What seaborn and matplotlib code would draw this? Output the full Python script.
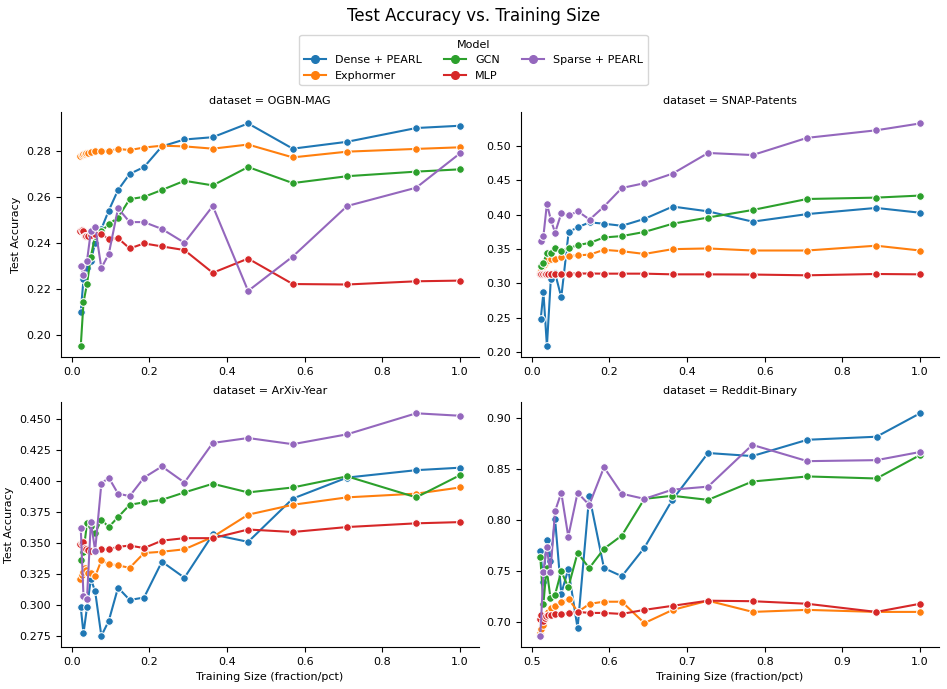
import pandas as pd
import matplotlib
matplotlib.use("Agg")
import matplotlib.pyplot as plt
import seaborn as sns

plt.rcParams.update({"font.size": 8, "axes.titlesize": 8, "axes.labelsize": 8,
                     "xtick.labelsize": 8, "ytick.labelsize": 8,
                     "legend.fontsize": 8, "legend.title_fontsize": 8})

# Training fractions
frac = [0.023, 0.030, 0.039, 0.049, 0.060, 0.076, 0.095, 0.119, 0.149, 0.186,
        0.232, 0.290, 0.363, 0.454, 0.569, 0.709, 0.887, 1.0]
frac_fine = [0.021, 0.025, 0.029, 0.033, 0.037, 0.042, 0.049, 0.060, 0.076, 0.095,
             0.119, 0.149, 0.186, 0.232, 0.290, 0.363, 0.454, 0.569, 0.709, 0.887, 1.0]
reddit_frac = [0.511, 0.515, 0.519, 0.524, 0.530, 0.538, 0.547, 0.559, 0.574, 0.593,
               0.616, 0.645, 0.681, 0.727, 0.784, 0.855, 0.944, 1.0]
reddit_frac_fine = [0.5105, 0.5125, 0.5145, 0.5165, 0.5185, 0.521, 0.5245, 0.530, 0.538, 0.5475,
                    0.5595, 0.5745, 0.593, 0.616, 0.645, 0.6815, 0.727, 0.7845, 0.8545, 0.9435, 1.0]

datasets = ["OGBN-MAG", "SNAP-Patents", "ArXiv-Year", "Reddit-Binary"]
models = ["Dense + PEARL", "Exphormer", "GCN", "MLP", "Sparse + PEARL"]

# OGBN-MAG
ogbn_dense = [0.210, 0.224, 0.229, 0.232, 0.240, 0.246, 0.254, 0.263, 0.270, 0.273,
              0.282, 0.285, 0.286, 0.292, 0.281, 0.284, 0.290, 0.291]
ogbn_exph = [0.2778, 0.2782, 0.2785, 0.2788, 0.2790, 0.2792, 0.2794, 0.2799, 0.2801, 0.2800,
             0.2809, 0.2804, 0.2815, 0.2823, 0.2820, 0.2810, 0.2828, 0.2772, 0.2797, 0.2809, 0.2816]
ogbn_gcn = [0.195, 0.214, 0.222, 0.234, 0.243, 0.245, 0.248, 0.251, 0.259, 0.260,
            0.263, 0.267, 0.265, 0.273, 0.266, 0.269, 0.271, 0.272]
ogbn_mlp = [0.2450, 0.2455, 0.2450, 0.2430, 0.2430, 0.2430, 0.2435, 0.2440, 0.2440, 0.2415,
            0.2420, 0.2375, 0.2397, 0.2384, 0.2368, 0.2269, 0.2331, 0.2220, 0.2218, 0.2232, 0.2235]
ogbn_sparse = [0.230, 0.226, 0.232, 0.245, 0.247, 0.229, 0.235, 0.255, 0.249, 0.249,
               0.246, 0.240, 0.256, 0.219, 0.234, 0.256, 0.264, 0.279]

# SNAP-Patents
snap_dense = [0.248, 0.287, 0.209, 0.306, 0.315, 0.280, 0.375, 0.382, 0.389, 0.387,
              0.384, 0.394, 0.412, 0.405, 0.390, 0.401, 0.410, 0.403]
snap_exph = [0.316, 0.320, 0.325, 0.329, 0.332, 0.334, 0.335, 0.336, 0.338, 0.340,
             0.341, 0.342, 0.349, 0.347, 0.343, 0.350, 0.351, 0.348, 0.348, 0.355, 0.348]
snap_gcn = [0.326, 0.330, 0.345, 0.345, 0.352, 0.348, 0.351, 0.356, 0.359, 0.367,
            0.369, 0.375, 0.387, 0.396, 0.407, 0.423, 0.425, 0.428]
snap_mlp = [0.3145, 0.3145, 0.3145, 0.3145, 0.3145, 0.3145, 0.3145, 0.3145, 0.3145, 0.3145,
            0.3145, 0.3145, 0.3143, 0.3143, 0.3143, 0.3133, 0.3133, 0.3130, 0.3119, 0.3138, 0.3133]
snap_sparse = [0.362, 0.369, 0.416, 0.393, 0.374, 0.402, 0.399, 0.405, 0.393, 0.412,
               0.439, 0.446, 0.460, 0.490, 0.487, 0.512, 0.523, 0.533]

# ArXiv-Year
arxiv_dense = [0.298, 0.277, 0.298, 0.321, 0.311, 0.275, 0.287, 0.314, 0.304, 0.306,
               0.335, 0.322, 0.357, 0.351, 0.386, 0.403, 0.409, 0.411]
arxiv_exph = [0.321, 0.324, 0.327, 0.330, 0.328, 0.326, 0.326, 0.323, 0.336, 0.333,
              0.332, 0.330, 0.342, 0.343, 0.345, 0.355, 0.373, 0.381, 0.387, 0.390, 0.395]
arxiv_gcn = [0.336, 0.343, 0.366, 0.364, 0.358, 0.369, 0.363, 0.371, 0.381, 0.383,
             0.385, 0.391, 0.398, 0.391, 0.395, 0.404, 0.387, 0.405]
arxiv_mlp = [0.349, 0.350, 0.351, 0.346, 0.345, 0.3445, 0.344, 0.344, 0.345, 0.345,
             0.347, 0.348, 0.346, 0.352, 0.354, 0.354, 0.361, 0.359, 0.363, 0.366, 0.367]
arxiv_sparse = [0.362, 0.307, 0.305, 0.367, 0.344, 0.398, 0.403, 0.390, 0.388, 0.403,
                0.412, 0.399, 0.431, 0.435, 0.430, 0.438, 0.455, 0.453]

# Reddit-Binary
reddit_dense = [0.770, 0.739, 0.781, 0.760, 0.801, 0.728, 0.752, 0.694, 0.824, 0.753,
                0.745, 0.773, 0.820, 0.866, 0.863, 0.879, 0.882, 0.905]
reddit_exph = [0.689, 0.693, 0.697, 0.704, 0.708, 0.710, 0.714, 0.716, 0.720, 0.7225,
               0.710, 0.718, 0.720, 0.720, 0.699, 0.712, 0.721, 0.710, 0.712, 0.710, 0.710]
reddit_gcn = [0.764, 0.718, 0.753, 0.724, 0.727, 0.750, 0.734, 0.768, 0.753, 0.772,
              0.785, 0.821, 0.824, 0.820, 0.838, 0.843, 0.841, 0.864]
reddit_mlp = [0.703, 0.7065, 0.7015, 0.704, 0.706, 0.707, 0.707, 0.7075, 0.708, 0.709,
              0.710, 0.709, 0.709, 0.708, 0.712, 0.716, 0.721, 0.7205, 0.718, 0.710, 0.718]
reddit_sparse = [0.6865, 0.749, 0.774, 0.749, 0.809, 0.827, 0.784, 0.827, 0.815, 0.852,
                 0.826, 0.821, 0.830, 0.833, 0.874, 0.858, 0.859, 0.867]

series = [
    ("OGBN-MAG", frac, frac_fine, [ogbn_dense, ogbn_exph, ogbn_gcn, ogbn_mlp, ogbn_sparse]),
    ("SNAP-Patents", frac, frac_fine, [snap_dense, snap_exph, snap_gcn, snap_mlp, snap_sparse]),
    ("ArXiv-Year", frac, frac_fine, [arxiv_dense, arxiv_exph, arxiv_gcn, arxiv_mlp, arxiv_sparse]),
    ("Reddit-Binary", reddit_frac, reddit_frac_fine,
     [reddit_dense, reddit_exph, reddit_gcn, reddit_mlp, reddit_sparse]),
]

rows = []
for ds, xs, xs_fine, vals in series:
    for model, ys in zip(models, vals):
        xx = xs_fine if len(ys) == len(xs_fine) else xs
        for x, y in zip(xx, ys):
            rows.append({"dataset": ds, "Model": model,
                         "Training Size (fraction/pct)": x, "Test Accuracy": y})
df = pd.DataFrame(rows)

g = sns.relplot(data=df, x="Training Size (fraction/pct)", y="Test Accuracy",
                hue="Model", hue_order=models, col="dataset", col_order=datasets,
                col_wrap=2, kind="line", marker="o", markersize=5.5, errorbar=None,
                facet_kws={"sharex": False, "sharey": False})

g.fig.set_size_inches(9.47, 6.89)
g.fig.subplots_adjust(left=0.0644, right=0.9916, bottom=0.061, top=0.837,
                      wspace=0.10, hspace=0.184)
sns.move_legend(g, "upper center", bbox_to_anchor=(0.5, 0.957), ncol=3,
                frameon=True, title="Model")
g.fig.suptitle("Test Accuracy vs. Training Size", fontsize=12, y=0.99)

g.fig.savefig("out.png", dpi=100)
